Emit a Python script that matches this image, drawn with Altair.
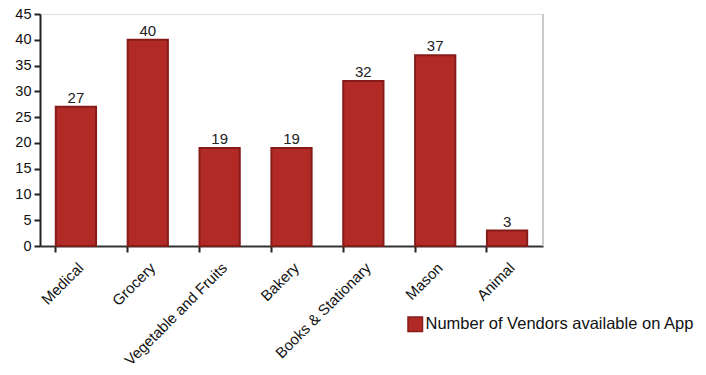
import altair as alt
import pandas as pd

categories = ["Medical", "Grocery", "Vegetable and Fruits", "Bakery",
              "Books & Stationary", "Mason", "Animal"]
values = [27, 40, 19, 19, 32, 37, 3]
series_name = "Number of Vendors available on App"
y_ticks = [0, 5, 10, 15, 20, 25, 30, 35, 40, 45]

df = pd.DataFrame({"category": categories, "value": values, "series": series_name})

FONT = "Liberation Sans"

x_axis = alt.Axis(labelAngle=-45, labelAlign="right", labelBaseline="top",
                  labelFont=FONT, labelFontSize=15, labelColor="#111",
                  labelPadding=8, bandPosition=0, ticks=True, tickSize=6,
                  tickWidth=2, tickColor="#222", domainColor="#333",
                  domainWidth=2, labelOverlap=False, labelLimit=300)
y_axis = alt.Axis(values=y_ticks, tickCount=20, grid=False, labelFont=FONT, labelFontSize=14.5,
                  labelColor="#111", tickSize=6, tickWidth=2, tickColor="#222",
                  domainColor="#222", domainWidth=2, labelPadding=3,
                  labelOverlap=False, labelFlush=False)
x_scale = alt.Scale(paddingInner=0.44, paddingOuter=0.22)
y_scale = alt.Scale(domain=[0, 45], nice=False)

bars = alt.Chart(df).mark_bar(stroke="#861c19", strokeWidth=2).encode(
    x=alt.X("category:N", sort=categories, title=None, scale=x_scale, axis=x_axis),
    y=alt.Y("value:Q", title=None, scale=y_scale, axis=y_axis),
    color=alt.Color("series:N", title=None,
                    scale=alt.Scale(range=["#b22a26"]),
                    legend=alt.Legend(orient="none", legendX=367, legendY=302,
                                      symbolType="square", symbolSize=210,
                                      symbolStrokeColor="#861c19", symbolStrokeWidth=1.5,
                                      labelFont=FONT, labelFontSize=16.5, labelColor="#111",
                                      labelLimit=500, labelOffset=2)),
)

labels = alt.Chart(df).mark_text(baseline="bottom", dy=-1, font=FONT, fontSize=15,
                                 color="#222").encode(
    x=alt.X("category:N", sort=categories, title=None, scale=x_scale, axis=x_axis),
    y=alt.Y("value:Q", title=None, scale=y_scale, axis=y_axis),
    text=alt.Text("value:Q"),
)

border = alt.Chart(df).mark_rule(color="#c8c8c8", strokeWidth=1.5).encode(
    x=alt.value(503), y=alt.value(0), y2=alt.value(232)
)

chart = alt.layer(bars, labels, border).properties(
    width=503, height=232,
    autosize=alt.AutoSizeParams(type="none"),
    padding={"left": 40, "top": 14, "right": 163, "bottom": 129},
).configure_view(stroke=None).configure(background="white")

chart.save("out.html", embed_options={"renderer": "svg", "actions": False})
